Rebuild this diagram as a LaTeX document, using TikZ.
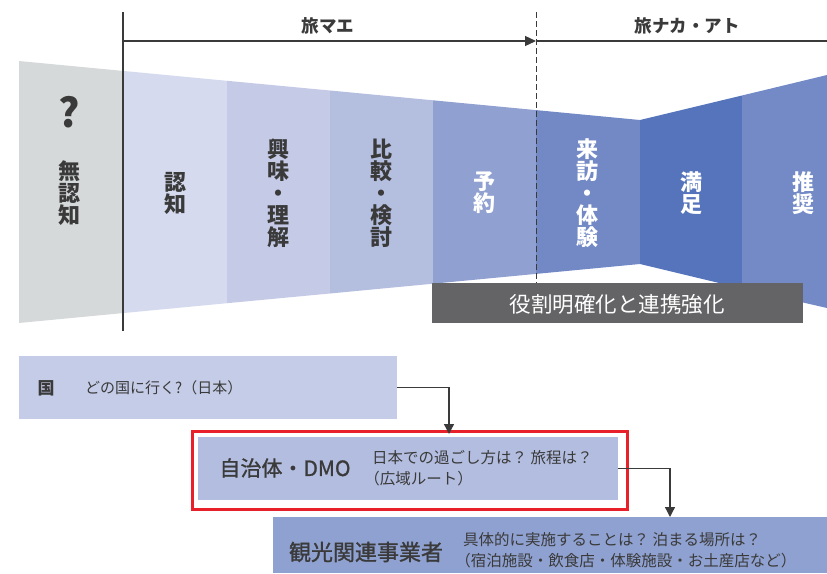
\documentclass[tikz,border=0pt]{standalone}
\usepackage{fontspec}
\newfontfamily\jp{Noto Sans CJK JP}
\newfontfamily\jpm{Noto Sans CJK JP}[FakeBold=1.2]
\usetikzlibrary{arrows.meta}
\definecolor{cgray}{HTML}{D6D9DA}
\definecolor{cA}{HTML}{D5DAEE}
\definecolor{cB}{HTML}{C5CBE6}
\definecolor{cC}{HTML}{B4BEDF}
\definecolor{cD}{HTML}{8FA0D1}
\definecolor{cE}{HTML}{7289C5}
\definecolor{cF}{HTML}{5574BB}
\definecolor{cG}{HTML}{738AC6}
\definecolor{cbar}{HTML}{646466}
\definecolor{ctext}{HTML}{3A3A3A}
\definecolor{cred}{HTML}{E8202A}
\definecolor{cbox1}{HTML}{C5CCE7}
\definecolor{cbox2}{HTML}{B3BDDF}
\definecolor{cbox3}{HTML}{8FA1D0}
\tikzset{
  vtext/.style={font=\jp\bfseries\fontsize{22}{22}\selectfont, align=center, inner sep=0pt, text=ctext},
  vwhite/.style={vtext, text=white},
  toplabel/.style={font=\jp\bfseries\fontsize{17.5}{18}\selectfont, text=ctext, inner sep=0pt},
  qtext/.style={font=\jp\fontsize{15.5}{21}\selectfont, align=left, text=ctext, inner sep=0pt, anchor=west},
  titletext/.style={font=\jpm\fontsize{21}{24}\selectfont, text=ctext, inner sep=0pt},
  boxshape/.style={anchor=north west, inner sep=0pt, draw=none},
  conn/.style={draw=ctext, line width=1.3pt, -{Triangle[length=10pt,width=10pt]}},
}
\newcommand{\lparen}{\hspace{-0.5em}（}
\begin{document}
\begin{tikzpicture}[x=1pt,y=-1pt]
\useasboundingbox (0,0) rectangle (827,573);
% funnel bands
\fill[cgray] (19,61) -- (123,70.9) -- (123,313.1) -- (19,323) -- cycle;
\fill[cA] (123,70.9) -- (227,80.8) -- (227,303.2) -- (123,313.1) -- cycle;
\fill[cB] (227,80.8) -- (330,90.5) -- (330,293.5) -- (227,303.2) -- cycle;
\fill[cC] (330,90.5) -- (433,100.3) -- (433,283.7) -- (330,293.5) -- cycle;
\fill[cD] (433,100.3) -- (536,110.1) -- (536,273.9) -- (433,283.7) -- cycle;
\fill[cE] (536,110.1) -- (640,120) -- (640,264) -- (536,273.9) -- cycle;
\fill[cF] (640,120) -- (742,95.5) -- (742,288.5) -- (640,264) -- cycle;
\fill[cG] (742,95.5) -- (827,75) -- (827,308) -- (742,288.5) -- cycle;
% band labels
\node[font=\jp\bfseries\fontsize{40}{40}\selectfont, text=ctext, inner sep=0pt] (q) at (69,112) {?};
\node[vtext] (munin) at (69,193) {無\\認\\知};
\node[vtext] (ninchi) at (175,193) {認\\知};
\node[vtext] (kyomi) at (278,193) {興\\味\\・\\理\\解};
\node[vtext] (hikaku) at (381,193) {比\\較\\・\\検\\討};
\node[vwhite] (yoyaku) at (484,193) {予\\約};
\node[vwhite] (raiho) at (587,193) {来\\訪\\・\\体\\験};
\node[vwhite] (manzoku) at (691,193) {満\\足};
\node[vwhite] (suisho) at (803,193) {推\\奨};
% timeline
\coordinate (vl0) at (123,12);
\coordinate (vl1) at (123,331);
\draw[ctext, line width=1.2pt] (vl0) -- (vl1);
\coordinate (tl0) at (123,41);
\coordinate (tlm) at (536,41);
\coordinate (tl1) at (827,41);
\draw[ctext, line width=1.2pt, -{Triangle[length=11pt,width=10pt]}] (tl0) -- (tlm);
\draw[ctext, line width=1.2pt] (tlm) -- (tl1);
\coordinate (dl0) at (536,12);
\coordinate (dl1) at (536,283);
\draw[ctext, line width=1pt, dash pattern=on 6pt off 3pt] (dl0) -- (dl1);
\node[toplabel] (tabimae) at (328,26) {旅マエ};
\node[toplabel] (tabinaka) at (687,26) {旅ナカ・アト};
% gray bar
\node[boxshape, fill=cbar, minimum width=371pt, minimum height=40pt] (bar) at (432,283) {};
\node[font=\jp\fontsize{21.5}{24}\selectfont, text=white, inner sep=0pt] (bartext) at (617,304) {役割明確化と連携強化};
% bottom boxes
\node[boxshape, fill=cbox1, minimum width=378pt, minimum height=63pt] (kuni) at (19,356) {};
\node[font=\jp\bfseries\fontsize{17}{20}\selectfont, text=ctext, inner sep=0pt] (kunil) at (46,388) {国};
\node[qtext, font=\jp\fontsize{15}{21}\selectfont] (kuniq) at (85,388) {どの国に行く?（日本）};
\node[boxshape, draw=cred, line width=3pt, minimum width=435pt, minimum height=78pt] (redbox) at (190.5,429.5) {};
\node[boxshape, fill=cbox2, minimum width=420pt, minimum height=63pt] (dmo) at (198,437) {};
\node[titletext] (dmol) at (285,468) {自治体・DMO};
\node[qtext] (dmoq) at (372,468.5) {日本での過ごし方は？ 旅程は？\\\lparen 広域ルート）};
\node[boxshape, fill=cbox3, minimum width=554pt, minimum height=56pt] (biz) at (273,517) {};
\node[titletext, font=\jpm\fontsize{22}{24}\selectfont] (bizl) at (366,552) {観光関連事業者};
\node[qtext] (bizq) at (463,550.5) {具体的に実施することは？ 泊まる場所は？\\\lparen 宿泊施設・飲食店・体験施設・お土産店など）};
% connectors
\coordinate (t1) at (449,434);
\draw[conn] (kuni.east) -| (t1);
\coordinate (t2) at (670,517);
\draw[conn] (dmo.east) -| (t2);
\end{tikzpicture}
\end{document}
